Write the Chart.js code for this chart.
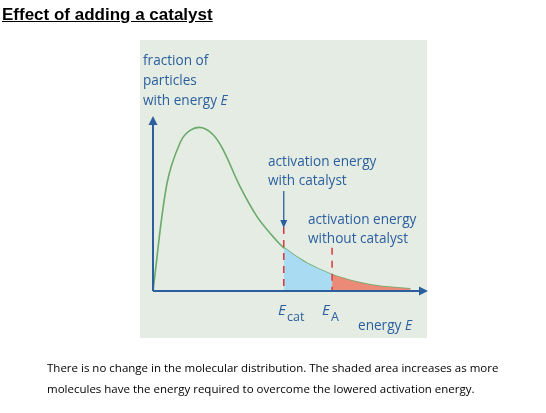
<!DOCTYPE html>
<html><head><meta charset="utf-8">
<script src="https://cdn.jsdelivr.net/npm/chart.js@4"></script>
<style>
body{margin:0;width:546px;height:413px;position:relative;background:#fff;font-family:"Liberation Sans",Arial,sans-serif;overflow:hidden}
#title{position:absolute;left:2px;top:5px;font-weight:bold;font-size:17px;text-decoration:underline;color:#000}
#cap{position:absolute;left:47px;top:357px;font-size:11.5px;line-height:21px;color:#000;font-family:"Open Sans",sans-serif}
#wrap{position:absolute;left:0;top:0;width:546px;height:413px}
</style></head><body>
<div id="wrap"><canvas id="c" width="546" height="413"></canvas></div>
<div id="title">Effect of adding a catalyst</div>
<div id="cap">There is no change in the molecular distribution. The shaded area increases as more<br>molecules have the energy required to overcome the lowered activation energy.</div>
<script>
const energy = [0,5.1,10,13.7,18,22.2,25.9,32,38.1,44.2,47.9,56.4,65.6,74.7,83.3,94.3];
const fraction = [0,62,86,93,94.4,90,81,60,43,31,25,16,9.4,5.2,2.7,1.3];
const eCat = 47.9, eA = 65.6;
const blueE = [47.9,56.4,65.6], blueF = [25,16,9.4];
const redE = [65.6,74.7,83.3,94.3], redF = [9.4,5.2,2.7,1.3];
const pts=(xs,ys)=>xs.map((x,i)=>({x,y:ys[i]}));
const BLUE='#2b5f9e';
const F='13.6px "Open Sans"', FI='italic 13.6px "Open Sans"';
const deco={id:'deco',
beforeDraw(ch){const c=ch.ctx;c.save();c.fillStyle='#e4ece4';c.fillRect(140,40,287,298);c.restore();},
afterDatasetsDraw(ch){
 const c=ch.ctx,x=ch.scales.x,y=ch.scales.y;c.save();
 const x0=x.getPixelForValue(0),y0=y.getPixelForValue(0);
 c.strokeStyle='#e0343c';c.lineWidth=1.5;c.setLineDash([7,6]);
 c.beginPath();c.moveTo(x.getPixelForValue(eCat),y.getPixelForValue(37));c.lineTo(x.getPixelForValue(eCat),y0);
 c.moveTo(x.getPixelForValue(eA),y.getPixelForValue(25));c.lineTo(x.getPixelForValue(eA),y0);c.stroke();c.setLineDash([]);
 c.strokeStyle=BLUE;c.fillStyle=BLUE;c.lineWidth=2;
 const xe=x.getPixelForValue(100),yt=y.getPixelForValue(100);
 c.beginPath();c.moveTo(x0,y0);c.lineTo(xe-4,y0);c.moveTo(x0,y0);c.lineTo(x0,yt+4);c.stroke();
 c.beginPath();c.moveTo(xe+2,y0);c.lineTo(xe-7,y0-4.5);c.lineTo(xe-7,y0+4.5);c.fill();
 c.beginPath();c.moveTo(x0,yt-2);c.lineTo(x0-4.5,yt+7);c.lineTo(x0+4.5,yt+7);c.fill();
 const ax=x.getPixelForValue(eCat);c.lineWidth=1.3;
 c.beginPath();c.moveTo(ax,191);c.lineTo(ax,222);c.stroke();
 c.beginPath();c.moveTo(ax,228);c.lineTo(ax-3.5,220);c.lineTo(ax+3.5,220);c.fill();
 c.font=F;c.textBaseline='middle';
 [['fraction of',143,61],['particles',143,81],['with energy ',143,101],
  ['activation energy',268,162],['with catalyst',268,181],
  ['activation energy',308,220],['without catalyst',308,239],['energy ',358,326]].forEach(t=>c.fillText(t[0],t[1],t[2]));
 const w1=c.measureText('with energy ').width, w2=c.measureText('energy ').width;
 c.font=FI;c.fillText('E',143+w1,101);c.fillText('E',358+w2,326);
 c.font='italic 15px "Open Sans"';c.fillText('E',278,311);c.fillText('E',322,311);
 c.font='12.5px "Open Sans"';c.fillText('cat',287,317);c.fillText('A',331,317);
 c.restore();}};
new Chart(document.getElementById('c'),{type:'scatter',
 data:{datasets:[
  {data:pts(blueE,blueF),showLine:true,fill:'origin',backgroundColor:'#a9dcf3',borderWidth:0,pointRadius:0,tension:0.3},
  {data:pts(redE,redF),showLine:true,fill:'origin',backgroundColor:'#ec8a78',borderWidth:0,pointRadius:0,tension:0.3},
  {data:pts(energy,fraction),showLine:true,borderColor:'#6aaa6a',borderWidth:1.6,pointRadius:0,tension:0.35}
 ]},
 options:{responsive:false,animation:false,events:[],
  layout:{padding:{left:153,right:120,top:118,bottom:122}},
  plugins:{legend:{display:false},tooltip:{enabled:false}},
  scales:{x:{type:'linear',min:0,max:100,display:false},y:{min:0,max:100,display:false}}},
 plugins:[deco]});
</script></body></html>
